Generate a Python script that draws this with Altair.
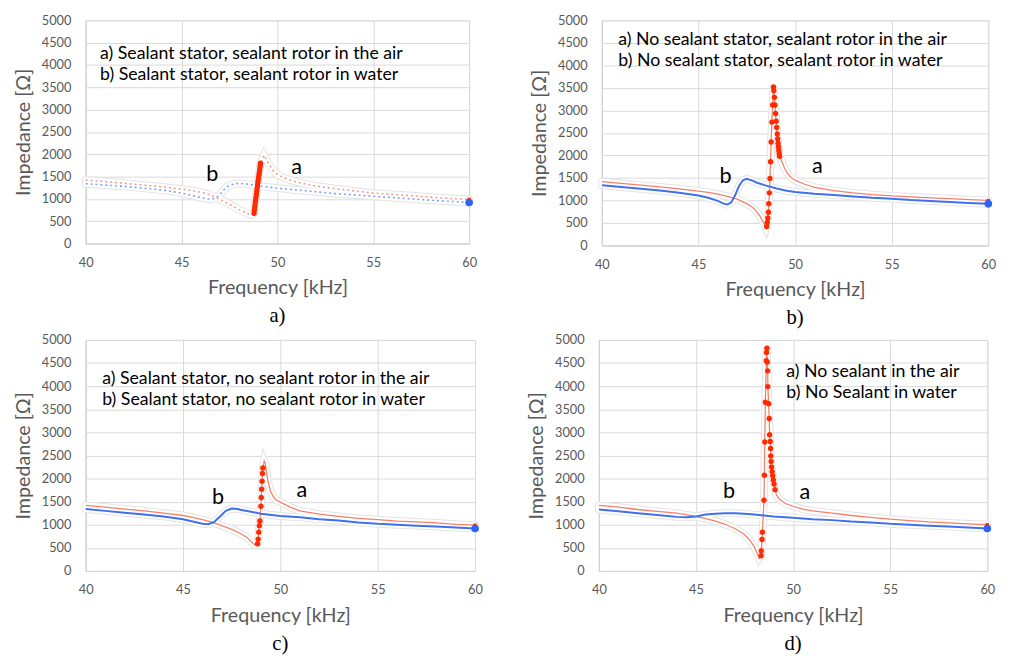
import altair as alt
import pandas as pd

# ---------------- data ----------------
XT = [40, 45, 50, 55, 60]
YT = list(range(0, 5001, 500))

# Panel a) sealant stator, sealant rotor
a_red_left_f = [40, 41, 42, 43, 44, 45, 45.5, 46, 46.5, 47, 47.5, 48, 48.3, 48.5, 48.7]
a_red_left_z = [1420, 1390, 1350, 1310, 1270, 1220, 1190, 1150, 1090, 990, 880, 760, 700, 660, 650]
a_dot_f = [48.78, 48.8, 48.82, 48.84, 48.86, 48.88, 48.9, 48.92, 48.94, 48.96, 48.98,
           49.0, 49.02, 49.04, 49.06, 49.08, 49.1, 49.12]
a_dot_z = [680, 750, 820, 890, 960, 1030, 1100, 1170, 1240, 1300, 1360,
           1420, 1480, 1540, 1600, 1660, 1730, 1800]
a_red_right_f = [49.3, 49.4, 49.6, 49.8, 50, 50.3, 50.6, 51, 51.5, 52, 53, 54, 55, 56, 57, 58, 59, 60]
a_red_right_z = [1980, 1900, 1750, 1620, 1550, 1480, 1430, 1380, 1330, 1290, 1230, 1180, 1130, 1100, 1070, 1040, 1010, 990]
a_blue_f = [40, 41, 42, 43, 44, 45, 45.5, 46, 46.5, 46.8, 47, 47.2, 47.4, 47.7, 48, 48.5, 49, 50,
            51, 52, 53, 54, 55, 56, 57, 58, 59, 60]
a_blue_z = [1340, 1310, 1280, 1240, 1200, 1130, 1080, 1030, 990, 1020, 1100, 1200, 1280, 1330, 1350, 1330, 1290, 1240,
            1200, 1160, 1120, 1090, 1060, 1030, 1000, 970, 945, 920]

# Panel b) no sealant stator, sealant rotor
b_red_left_f = [40, 41, 42, 43, 44, 45, 45.5, 46, 46.5, 47, 47.5, 47.8, 48, 48.2, 48.4, 48.5]
b_red_left_z = [1420, 1380, 1340, 1300, 1260, 1210, 1180, 1140, 1090, 1030, 930, 850, 760, 640, 480, 380]
b_dot_f = [48.53, 48.56, 48.59, 48.62, 48.64, 48.67, 48.7, 48.73, 48.76, 48.8, 48.84, 48.88,
           48.9, 48.93, 48.96, 48.99, 49.02, 49.05, 49.08, 49.1, 49.12, 49.14, 49.16, 49.18, 49.2]
b_dot_z = [420, 510, 610, 740, 930, 1170, 1490, 1860, 2300, 2740, 3120, 3520,
           3440, 3290, 3120, 2930, 2760, 2620, 2480, 2370, 2270, 2190, 2110, 2040, 1980]
b_red_right_f = [49.3, 49.45, 49.6, 49.8, 50, 50.5, 51, 52, 53, 54, 55, 56, 57, 58, 59, 60]
b_red_right_z = [1880, 1720, 1600, 1510, 1450, 1360, 1290, 1220, 1170, 1130, 1100, 1080, 1060, 1040, 1020, 1000]
b_blue_f = [40, 41, 42, 43, 44, 45, 45.5, 46, 46.3, 46.5, 46.7, 46.9, 47.1, 47.3, 47.5, 47.8, 48, 48.5,
            49, 49.5, 50, 51, 52, 53, 54, 55, 56, 57, 58, 59, 60]
b_blue_z = [1340, 1300, 1260, 1220, 1170, 1110, 1060, 990, 930, 910, 960, 1120, 1320, 1450, 1480, 1440, 1400, 1330,
            1270, 1220, 1190, 1150, 1120, 1090, 1060, 1040, 1010, 990, 965, 945, 925]

# Panel c) sealant stator, no sealant rotor
c_red_left_f = [40, 41, 42, 43, 44, 45, 45.5, 46, 46.5, 47, 47.5, 48, 48.3, 48.5, 48.7, 48.8]
c_red_left_z = [1420, 1380, 1340, 1300, 1250, 1200, 1160, 1110, 1050, 980, 900, 800, 720, 630, 560, 575]
c_dot_f = [48.83, 48.86, 48.89, 48.92, 48.95, 49.0, 49.02, 49.04, 49.06, 49.08, 49.1]
c_dot_z = [590, 690, 840, 980, 1080, 1400, 1590, 1770, 1940, 2110, 2230]
c_red_right_f = [49.17, 49.22, 49.27, 49.32, 49.4, 49.5, 49.65, 49.8, 50, 50.5, 51, 52, 53, 54, 55, 56, 57, 58, 59, 60]
c_red_right_z = [2380, 2330, 2200, 2050, 1880, 1720, 1600, 1530, 1490, 1380, 1300, 1230, 1180, 1140, 1110, 1080, 1060, 1040, 1010, 990]
c_blue_f = [40, 41, 42, 43, 44, 45, 45.5, 46, 46.3, 46.6, 46.9, 47.2, 47.5, 47.8, 48, 48.5, 49, 50,
            51, 52, 53, 54, 55, 56, 57, 58, 59, 60]
c_blue_z = [1340, 1300, 1260, 1220, 1180, 1120, 1070, 1020, 1010, 1060, 1180, 1300, 1350, 1340, 1320, 1280, 1240, 1190,
            1160, 1120, 1090, 1050, 1020, 1000, 980, 960, 940, 920]

# Panel d) no sealant
d_red_left_f = [40, 41, 42, 43, 44, 45, 45.5, 46, 46.5, 47, 47.5, 47.8, 48, 48.15, 48.25]
d_red_left_z = [1420, 1380, 1330, 1290, 1250, 1180, 1130, 1080, 1010, 920, 790, 650, 520, 380, 270]
d_dot_f = [48.35, 48.36, 48.4, 48.42, 48.5, 48.52, 48.54, 48.57, 48.62, 48.63, 48.65,
           48.67, 48.69, 48.7, 48.74, 48.77, 48.79, 48.82, 48.84, 48.85, 48.87, 48.89, 48.92, 48.95, 48.98, 49.02, 49.07]
d_dot_z = [330, 440, 680, 840, 1530, 2070, 2790, 3650, 4550, 4730, 4820,
           4520, 4330, 3990, 3620, 3300, 2950, 2800, 2650, 2490, 2370, 2250, 2150, 2060, 1970, 1880, 1760]
d_red_right_f = [49.15, 49.3, 49.6, 50, 50.5, 51, 52, 53, 54, 55, 56, 57, 58, 59, 60]
d_red_right_z = [1640, 1550, 1460, 1400, 1340, 1300, 1250, 1200, 1160, 1120, 1090, 1060, 1040, 1020, 1000]
d_blue_f = [40, 41, 42, 43, 44, 44.5, 45, 45.5, 46, 46.5, 47, 47.5, 48, 48.5, 49, 50,
            51, 52, 53, 54, 55, 56, 57, 58, 59, 60]
d_blue_z = [1330, 1290, 1250, 1210, 1170, 1160, 1180, 1220, 1240, 1250, 1250, 1240, 1220, 1200, 1180, 1150,
            1120, 1100, 1070, 1050, 1020, 1000, 980, 960, 940, 920]

legend_a = ["a) Sealant stator, sealant rotor in the air", "b) Sealant stator, sealant rotor in water"]
legend_b = ["a) No sealant stator, sealant rotor in the air", "b) No sealant stator, sealant rotor in water"]
legend_c = ["a) Sealant stator, no sealant rotor in the air", "b) Sealant stator, no sealant rotor in water"]
legend_d = ["a) No sealant in the air", "b) No Sealant in water"]

RED = "#ff2a00"
RED_LINE = "#f26a4f"
BLUE = "#2f63f5"
BLUE_LINE = "#3f70f0"
FONT = "Lato"


def panel(red_l, red_lz, dot_f, dot_z, red_r, red_rz, blue_f, blue_z, legend, leg_pos,
          a_pos, b_pos, caption, w, h, faint):
    red = pd.DataFrame({"f": red_l + dot_f + red_r, "z": red_lz + dot_z + red_rz})
    red["i"] = range(len(red))
    blue = pd.DataFrame({"f": blue_f, "z": blue_z})
    blue["i"] = range(len(blue))
    dots = pd.DataFrame({"f": dot_f, "z": dot_z})
    end_b = pd.DataFrame({"f": [blue_f[-1]], "z": [blue_z[-1]]})
    end_r = pd.DataFrame({"f": [red_r[-1]], "z": [red_rz[-1]]})
    leg = pd.DataFrame({"f": [leg_pos[0], leg_pos[0]], "z": [leg_pos[1], leg_pos[1] - 470], "t": legend})
    lab = pd.DataFrame({"f": [a_pos[0], b_pos[0]], "z": [a_pos[1], b_pos[1]], "t": ["a", "b"]})

    x = alt.X("f:Q", scale=alt.Scale(domain=[40, 60], nice=False, zero=False),
              axis=alt.Axis(values=XT, title="Frequency [kHz]", labelFlush=False))
    y = alt.Y("z:Q", scale=alt.Scale(domain=[0, 5000], nice=False),
              axis=alt.Axis(values=YT, title="Impedance [Ω]", format="d"))
    o = alt.Order("i:Q")

    layers = []
    for df in (red, blue):
        layers.append(alt.Chart(df).mark_line(color="#e3e3e3", strokeWidth=8, strokeCap="round")
                      .encode(x=x, y=y, order=o))
    for df in (red, blue):
        layers.append(alt.Chart(df).mark_line(color="white", strokeWidth=6, strokeCap="round")
                      .encode(x=x, y=y, order=o))
    if faint:
        layers.append(alt.Chart(red).mark_line(color="#f39a86", strokeWidth=1.6, strokeDash=[2, 3])
                      .encode(x=x, y=y, order=o))
        layers.append(alt.Chart(blue).mark_line(color="#7d9ef2", strokeWidth=1.6, strokeDash=[2, 3])
                      .encode(x=x, y=y, order=o))
    else:
        layers.append(alt.Chart(red).mark_line(color=RED_LINE, strokeWidth=1.3, opacity=0.85)
                      .encode(x=x, y=y, order=o))
        layers.append(alt.Chart(blue).mark_line(color=BLUE_LINE, strokeWidth=2)
                      .encode(x=x, y=y, order=o))
    layers.append(alt.Chart(dots).mark_circle(color=RED, size=30, opacity=1).encode(x=x, y=y))
    layers.append(alt.Chart(end_r).mark_point(color=RED, shape="square", size=12, filled=True, opacity=1)
                  .encode(x=x, y=y))
    layers.append(alt.Chart(end_b).mark_circle(color=BLUE, size=60, opacity=1).encode(x=x, y=y))
    layers.append(alt.Chart(leg).mark_text(align="left", baseline="middle", font=FONT, fontSize=18,
                                           color="black").encode(x=x, y=y, text="t:N"))
    layers.append(alt.Chart(lab).mark_text(align="center", baseline="middle", font=FONT, fontSize=22,
                                           color="black").encode(x=x, y=y, text="t:N"))
    return alt.layer(*layers).properties(
        width=w, height=h,
        title=alt.TitleParams(text=caption, orient="bottom", font="Liberation Serif", fontSize=21,
                              fontWeight="normal", color="black", offset=8))


pa = panel(a_red_left_f, a_red_left_z, a_dot_f, a_dot_z, a_red_right_f, a_red_right_z, a_blue_f, a_blue_z,
           legend_a, (40.75, 4250), (51.0, 1710), (46.6, 1560), "a)", 390, 227, True)
pb = panel(b_red_left_f, b_red_left_z, b_dot_f, b_dot_z, b_red_right_f, b_red_right_z, b_blue_f, b_blue_z,
           legend_b, (40.85, 4570), (51.15, 1760), (46.4, 1530), "b)", 393, 229, False)
pc = panel(c_red_left_f, c_red_left_z, c_dot_f, c_dot_z, c_red_right_f, c_red_right_z, c_blue_f, c_blue_z,
           legend_c, (40.85, 4160), (51.1, 1750), (46.8, 1590), "c)", 396, 235, False)
pd_ = panel(d_red_left_f, d_red_left_z, d_dot_f, d_dot_z, d_red_right_f, d_red_right_z, d_blue_f, d_blue_z,
            legend_d, (49.65, 4310), (50.6, 1710), (46.7, 1725), "d)", 395, 235, False)

chart = alt.vconcat(
    alt.hconcat(pa, pb, spacing=44),
    alt.hconcat(pc, pd_, spacing=35),
    spacing=2,
).properties(
    padding={"left": 5, "top": 0, "right": 0, "bottom": 0}
).configure_axis(
    gridColor="#d9d9d9", domainColor="#d0d0d0", ticks=False,
    labelFont=FONT, labelFontSize=13, labelColor="#595959",
    titleFont=FONT, titleFontSize=20, titleColor="#595959", titleFontWeight="normal",
).configure_axisY(
    labelPadding=15, titlePadding=8
).configure_axisX(
    labelPadding=13, titlePadding=9
).configure_view(
    stroke="#d9d9d9"
)

chart.save("out.html", embed_options={"renderer": "svg", "actions": False})
